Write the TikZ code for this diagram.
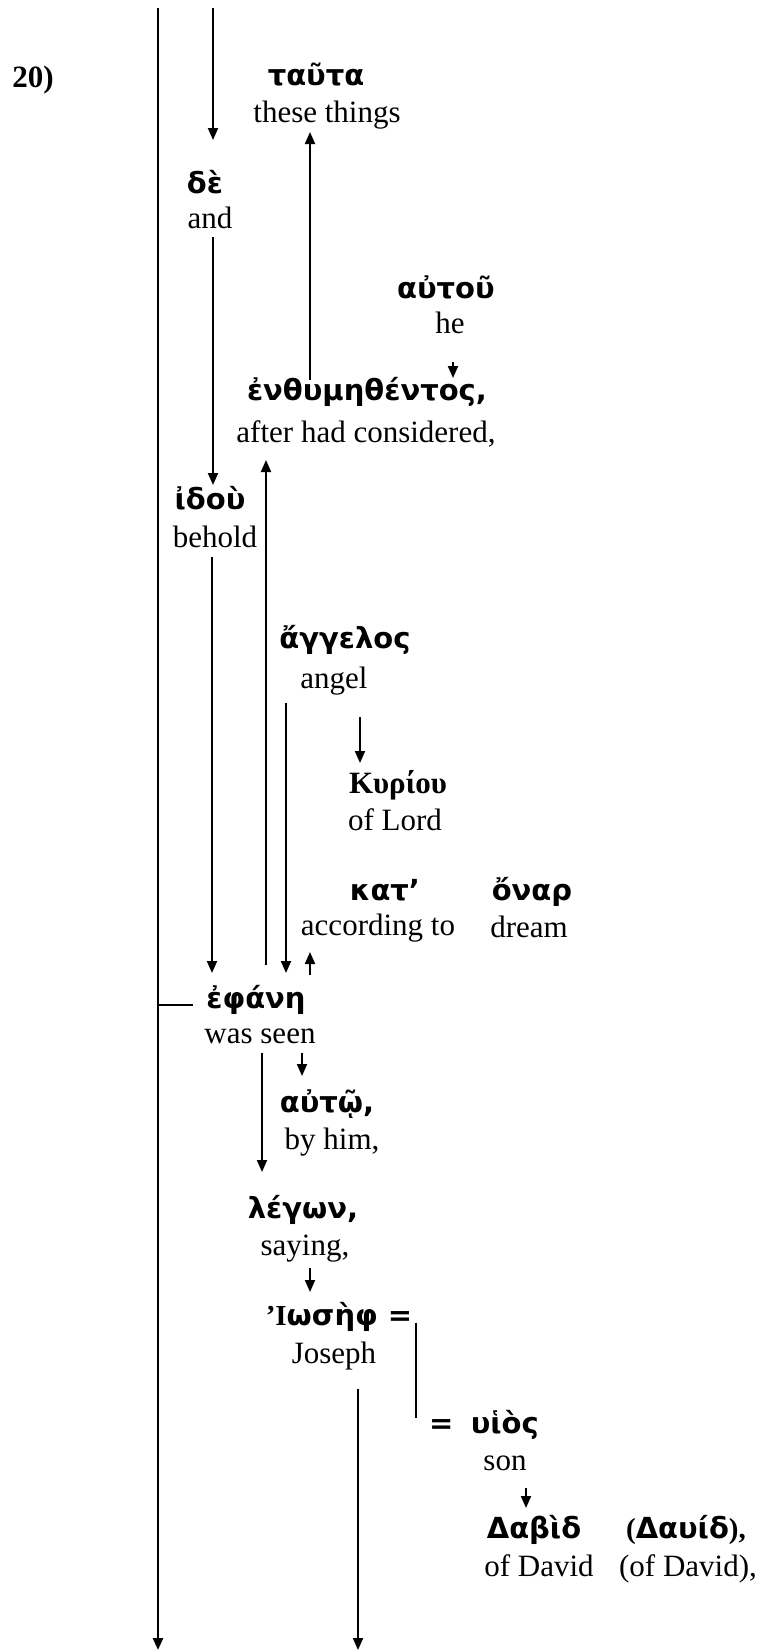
\documentclass[tikz,border=0pt]{standalone}
\usepackage{fontspec}
\setmainfont{Liberation Serif}
\newfontfamily\grfont{DejaVu Sans}
\usetikzlibrary{arrows.meta}
\tikzset{
	gr/.style={font=\grfont\bfseries\fontsize{29}{32}\selectfont, inner sep=0pt, anchor=base},
	grs/.style={font=\bfseries\fontsize{31}{34}\selectfont, inner sep=0pt, anchor=base},
	en/.style={font=\fontsize{31}{34}\selectfont, inner sep=0pt, anchor=base},
	arr/.style={line width=2pt, -{Triangle[length=12pt,width=10pt]}},
}

\begin{document}
\begin{tikzpicture}[x=1pt,y=1pt]
		\useasboundingbox (0,0) rectangle (762,-1652);
		%%%%% START %%%%%
		\coordinate (maintop) at (158,-8);
		\coordinate (mainbot) at (158,-1650);
		\coordinate (top2) at (213,-8);
		\coordinate (josbot) at (358,-1650);
		
		\node[grs] (num) at (33,-87) {20)};
		
		\node[gr] (tauta) at (316,-85) {ταῦτα};
		\node[en] (these) at (327,-122) {these things};
		\node[gr] (de) at (205,-193) {δὲ};
		\node[en] (and) at (210,-228) {and};
		\node[gr] (autou) at (446,-298) {αὐτοῦ};
		\node[en] (he) at (450,-333) {he};
		\node[gr] (enth) at (367,-400) {ἐνθυμηθέντος,};
		\node[en] (after) at (366,-442) {after had considered,};
		\node[gr] (idou) at (210,-509) {ἰδοὺ};
		\node[en] (behold) at (215,-547) {behold};
		\node[gr] (angelos) at (345,-648) {ἄγγελος};
		\node[en] (angel) at (334,-688) {angel};
		\node[grs] (kyriou) at (398,-793) {Κυρίου};
		\node[en] (lord) at (395,-830) {of Lord};
		\node[gr] (kat) at (385,-900) {κατ’};
		\node[en] (accord) at (378,-935) {according to};
		\node[gr] (onar) at (532,-900) {ὄναρ};
		\node[en] (dream) at (529,-937) {dream};
		\node[gr] (efane) at (256,-1008) {ἐφάνη};
		\node[en] (wasseen) at (260,-1043) {was seen};
		\node[gr] (autw) at (327,-1112) {αὐτῷ,};
		\node[en] (byhim) at (332,-1149) {by him,};
		\node[gr] (legon) at (303,-1218) {λέγων,};
		\node[en] (saying) at (305,-1255) {saying,};
		\node[gr] (iosef) at (339,-1325) {{\normalfont\bfseries ’Ι}ωσὴφ =};
		\node[en] (joseph) at (334,-1363) {Joseph};
		\node[gr] (huios) at (484,-1433) {=\hspace{0.6em}υἱὸς};
		\node[en] (son) at (505,-1470) {son};
		\node[gr] (dabid) at (534,-1538) {Δαβὶδ};
		\node[en] (ofdavid) at (539,-1576) {of David};
		\node[gr] (dabid2) at (686,-1538) {{\normalfont\bfseries(}Δαυίδ{\normalfont\bfseries),}};
		\node[en] (ofdavid2) at (688,-1576) {(of David),};
		
		\draw[arr, line width=2.6pt] (maintop) -- (mainbot);
		\draw[line width=2pt] (maintop |- efane.base) ++(0,3) -- ([xshift=-63pt,yshift=3pt]efane.base);
		
		\draw[arr] (top2) -- ([xshift=8pt,yshift=53pt]de.base);
		\draw[arr] ([xshift=3pt,yshift=-9pt]and.base) -- ([xshift=3pt,yshift=24pt]idou.base);
		\draw[arr] ([xshift=-57pt,yshift=20pt]enth.base) -- ([xshift=-17pt,yshift=-10pt]these.base);
		\draw[arr] ([xshift=3pt,yshift=-29pt]he.base) -- ([xshift=86pt,yshift=22pt]enth.base);
		\draw[arr] ([xshift=-3pt,yshift=-10pt]behold.base) -- ([xshift=-44pt,yshift=35pt]efane.base);
		\draw[arr] ([xshift=10pt,yshift=43pt]efane.base) -- ([xshift=-100pt,yshift=-18pt]after.base);
		\draw[arr] ([xshift=-48pt,yshift=-15pt]angel.base) -- ([xshift=30pt,yshift=35pt]efane.base);
		\draw[arr] ([xshift=26pt,yshift=-29pt]angel.base) -- ([xshift=-38pt,yshift=30pt]kyriou.base);
		\draw[arr] ([xshift=54pt,yshift=33pt]efane.base) -- ([xshift=-68pt,yshift=-17pt]accord.base);
		
		\draw[arr] ([xshift=2pt,yshift=-10pt]wasseen.base) -- ([xshift=-41pt,yshift=46pt]legon.base);
		\draw[arr] ([xshift=42pt,yshift=-10pt]wasseen.base) -- ([xshift=-25pt,yshift=36pt]autw.base);
		\draw[arr] ([xshift=5pt,yshift=-13pt]saying.base) -- ([xshift=-29pt,yshift=33pt]iosef.base);
		\draw[arr] ([xshift=24pt,yshift=-26pt]joseph.base) -- (josbot);
		\draw[line width=1.4pt] ([xshift=77pt,yshift=2pt]iosef.base) -- ([xshift=-68pt,yshift=15pt]huios.base);
		\draw[arr] ([xshift=21pt,yshift=-18pt]son.base) -- ([xshift=-8pt,yshift=30pt]dabid.base);
		%%%%% END %%%%%
\end{tikzpicture}
\end{document}
